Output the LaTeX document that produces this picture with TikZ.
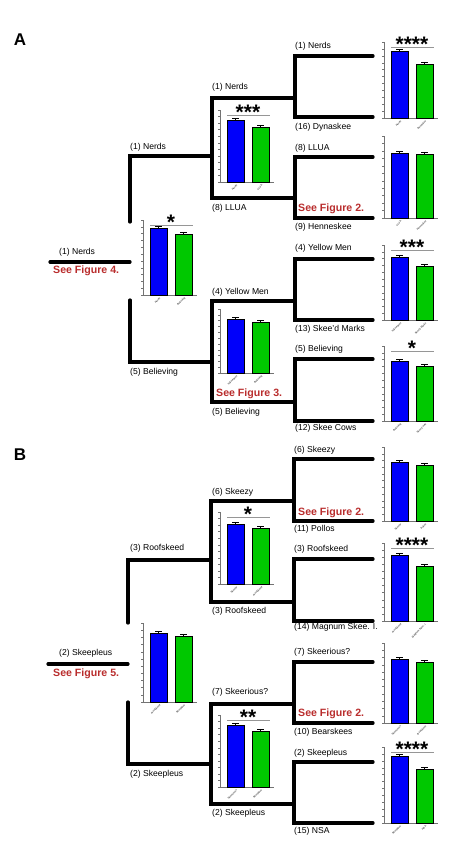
\documentclass[tikz,border=0pt]{standalone}
\usepackage{fontspec}
\setmainfont{Liberation Sans}
\usetikzlibrary{calc}

\definecolor{barblue}{RGB}{0,0,250}
\definecolor{bargreen}{RGB}{0,200,0}
\definecolor{figred}{RGB}{185,45,45}
\definecolor{siggray}{RGB}{150,150,150}

% one small bar chart: axis x, axis top, baseline, blue top, green top, stars, names
\newcommand{\barchart}[8]{%
  \draw[axisline] (#1,#2) -- (#1,#3) -- (#1+54,#3);
  \foreach \k in {0,...,11}
    \draw[axisline] (#1-2,{#3-\k*(#3-#2)/11}) -- (#1,{#3-\k*(#3-#2)/11});
  \draw[bluebar] (#1+7,#3) rectangle (#1+24,#4);
  \draw[greenbar] (#1+32,#3) rectangle (#1+49,#5);
  \draw[errbar] (#1+12,#4-1.5) -- (#1+19,#4-1.5) (#1+15.5,#4) -- (#1+15.5,#4-1.5);
  \draw[errbar] (#1+37,#5-1.5) -- (#1+44,#5-1.5) (#1+40.5,#5) -- (#1+40.5,#5-1.5);
  \node[barname] at (#1+17,#3+3) {#7};
  \node[barname] at (#1+42,#3+3) {#8};
  \def\starstext{#6}%
  \ifx\starstext\empty\else
    \draw[sigline] (#1+7,#2+5) -- (#1+50,#2+5);
    \node[stars] at (#1+28,#2+9.8) {#6};
  \fi}

\begin{document}
\begin{tikzpicture}[x=1pt, y=-1pt,
  bracket/.style={line width=3.2pt, line cap=round},
  team/.style={anchor=west, inner sep=0pt, font=\fontsize{8.6}{8.6}\selectfont},
  seefig/.style={anchor=west, inner sep=0pt, text=figred, font=\bfseries\fontsize{10.6}{10.6}\selectfont},
  panel/.style={inner sep=0pt, font=\bfseries\fontsize{17}{17}\selectfont},
  axisline/.style={line width=0.4pt, draw=black!55},
  bluebar/.style={fill=barblue, draw=black, line width=0.5pt},
  greenbar/.style={fill=bargreen, draw=black, line width=0.5pt},
  errbar/.style={line width=0.7pt},
  sigline/.style={draw=siggray, line width=0.7pt},
  stars/.style={anchor=base, inner sep=0pt, font=\bfseries\fontsize{21}{21}\selectfont},
  barname/.style={anchor=east, rotate=45, inner sep=0pt, font=\fontsize{2.5}{2.5}\selectfont}]
  \useasboundingbox (0,0) rectangle (474,867);

  % panel A
  \node[panel] (pA) at (20,40) {A};
  \foreach \t/\b in {56/117, 157/218, 259/320, 359/421}
    \draw[bracket] (373,\t) -- (295,\t) -- (295,\b) -- (373,\b);
  \draw[bracket] (295,98) -- (212,98) -- (212,198) -- (295,198);
  \draw[bracket] (295,301) -- (212,301) -- (212,402) -- (295,402);
  \coordinate (a1n) at (130,156);
  \coordinate (a1s) at (130,362);
  \draw[bracket] (212,156) -- (a1n) -- (130,222);
  \draw[bracket] (130,300) -- (a1s) -- (212,362);
  \coordinate (a0) at (50,262);
  \draw[bracket] (a0) -- (130,262);

  \node[team] (a3a) at (295,46) {(1) Nerds};
  \node[team] (a3b) at (295,127) {(16) Dynaskee};
  \node[team] (a3c) at (295,148) {(8) LLUA};
  \node[team] (a3d) at (295,227) {(9) Henneskee};
  \node[team] (a3e) at (295,248) {(4) Yellow Men};
  \node[team] (a3f) at (295,329) {(13) Skee'd Marks};
  \node[team] (a3g) at (295,349) {(5) Believing};
  \node[team] (a3h) at (295,428) {(12) Skee Cows};
  \node[team] (a2a) at (212,87) {(1) Nerds};
  \node[team] (a2b) at (212,208) {(8) LLUA};
  \node[team] (a2c) at (212,292) {(4) Yellow Men};
  \node[team] (a2d) at (212,412) {(5) Believing};
  \node[team] (a1a) at (130,147) {(1) Nerds};
  \node[team] (a1b) at (130,372) {(5) Believing};
  \node[team] (a0a) at (59,252) {(1) Nerds};
  \node[seefig] (af4) at (53,271) {See Figure 4.};
  \node[seefig] (af2) at (298,209) {See Figure 2.};
  \node[seefig] (af3) at (216,394) {See Figure 3.};

  \barchart{143}{220}{295}{228}{234}{*}{Nerds}{Believing}
  \barchart{220}{110}{182}{120}{127}{***}{Nerds}{LLUA}
  \barchart{220}{309}{373}{319}{322}{}{Yellow Men}{Believing}
  \barchart{384}{42}{118}{51}{64}{****}{Nerds}{Dynaskee}
  \barchart{384}{136}{218}{153}{154}{}{LLUA}{Henneskee}
  \barchart{384}{245}{320}{257}{266}{***}{Yellow Men}{Skee'd Marks}
  \barchart{384}{346}{421}{361}{366}{*}{Believing}{Skee Cows}

  % panel B
  \node[panel] (pB) at (20,455) {B};
  \foreach \t/\b in {459/521, 559/621, 662/723, 762/823}
    \draw[bracket] (373,\t) -- (294,\t) -- (294,\b) -- (373,\b);
  \draw[bracket] (294,501) -- (211,501) -- (211,602) -- (294,602);
  \draw[bracket] (294,704) -- (211,704) -- (211,804) -- (294,804);
  \coordinate (b1n) at (128,560);
  \coordinate (b1s) at (128,764);
  \draw[bracket] (211,560) -- (b1n) -- (128,623);
  \draw[bracket] (128,702) -- (b1s) -- (211,764);
  \coordinate (b0) at (48,664);
  \draw[bracket] (b0) -- (128,664);

  \node[team] (b3a) at (294,450) {(6) Skeezy};
  \node[team] (b3b) at (294,529) {(11) Pollos};
  \node[team] (b3c) at (294,549) {(3) Roofskeed};
  \node[team] (b3d) at (294,627) {(14) Magnum Skee. I.};
  \node[team] (b3e) at (294,652) {(7) Skeerious?};
  \node[team] (b3f) at (294,732) {(10) Bearskees};
  \node[team] (b3g) at (294,753) {(2) Skeepleus};
  \node[team] (b3h) at (294,831) {(15) NSA};
  \node[team] (b2a) at (212,492) {(6) Skeezy};
  \node[team] (b2b) at (212,611) {(3) Roofskeed};
  \node[team] (b2c) at (212,692) {(7) Skeerious?};
  \node[team] (b2d) at (212,813) {(2) Skeepleus};
  \node[team] (b1a) at (130,548) {(3) Roofskeed};
  \node[team] (b1b) at (130,774) {(2) Skeepleus};
  \node[team] (b0a) at (59,653) {(2) Skeepleus};
  \node[seefig] (bf5) at (53,674) {See Figure 5.};
  \node[seefig] (bf2a) at (298,513) {See Figure 2.};
  \node[seefig] (bf2b) at (298,714) {See Figure 2.};

  \barchart{143}{623}{702}{633}{636}{}{Roofskeed}{Skeepleus}
  \barchart{220}{512}{584}{524}{528}{*}{Skeezy}{Roofskeed}
  \barchart{220}{715}{787}{725}{731}{**}{Skeerious?}{Skeepleus}
  \barchart{384}{447}{521}{462}{465}{}{Skeezy}{Pollos}
  \barchart{384}{543}{621}{555}{566}{****}{Roofskeed}{Magnum Skee. I.}
  \barchart{384}{643}{723}{659}{662}{}{Skeerious?}{Bearskees}
  \barchart{384}{747}{823}{756}{769}{****}{Skeepleus}{NSA}
\end{tikzpicture}
\end{document}
